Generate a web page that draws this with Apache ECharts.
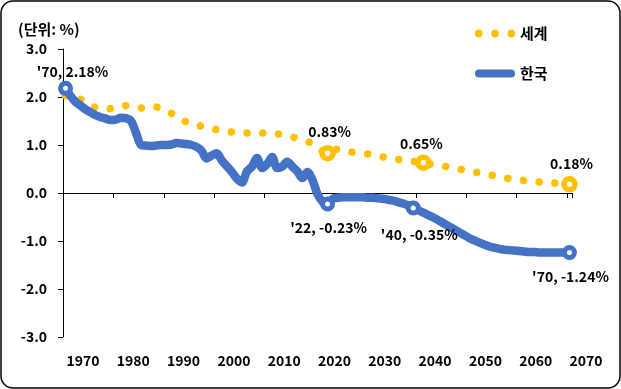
<!DOCTYPE html>
<html><head><meta charset="utf-8">
<script src="https://cdn.jsdelivr.net/npm/echarts@6/dist/echarts.min.js"></script>
<style>html,body{margin:0;padding:0;background:#fff}#c{width:621px;height:389px}</style>
</head><body><div id="c"></div>
<script>
const years = [
 '1970','1971','1972','1973','1974','1975','1976','1977','1978','1979',
 '1980','1981','1982','1983','1984','1985','1986','1987','1988','1989',
 '1990','1991','1992','1993','1994','1995','1996','1997','1998','1999',
 '2000','2001','2002','2003','2004','2005','2006','2007','2008','2009',
 '2010','2011','2012','2013','2014','2015','2016','2017','2018','2019',
 '2020','2021','2022','2023','2024','2025','2026','2027','2028','2029',
 '2030','2031','2032','2033','2034','2035','2036','2037','2038','2039',
 '2040','2041','2042','2043','2044','2045','2046','2047','2048','2049',
 '2050','2051','2052','2053','2054','2055','2056','2057','2058','2059',
 '2060','2061','2062','2063','2064','2065','2066','2067','2068','2069','2070'];

const korea = [
 2.18,2.02,1.90,1.82,1.74,1.68,1.62,1.58,1.55,1.52,
 1.53,1.57,1.56,1.50,1.25,1.00,0.99,0.98,0.99,1.00,
 1.00,1.01,1.04,1.03,1.02,1.00,0.96,0.88,0.72,0.78,
 0.83,0.68,0.56,0.44,0.30,0.22,0.45,0.55,0.73,0.52,
 0.60,0.75,0.52,0.55,0.65,0.55,0.45,0.31,0.44,0.27,
 -0.02,-0.18,-0.23,-0.12,-0.10,-0.09,-0.09,-0.09,-0.09,-0.09,
 -0.10,-0.10,-0.11,-0.12,-0.14,-0.16,-0.19,-0.22,-0.26,-0.31,
 -0.36,-0.41,-0.46,-0.51,-0.57,-0.63,-0.69,-0.75,-0.81,-0.87,
 -0.93,-0.98,-1.03,-1.07,-1.11,-1.14,-1.16,-1.18,-1.19,-1.20,
 -1.21,-1.22,-1.23,-1.23,-1.24,-1.24,-1.24,-1.24,-1.24,-1.24,-1.24];

const world = [
 2.03,2.00,1.97,1.95,1.88,1.82,1.78,1.76,1.75,1.76,
 1.79,1.81,1.82,1.80,1.78,1.77,1.78,1.79,1.79,1.76,
 1.70,1.66,1.60,1.54,1.48,1.45,1.42,1.39,1.36,1.34,
 1.32,1.30,1.28,1.27,1.26,1.25,1.25,1.25,1.25,1.25,
 1.24,1.24,1.23,1.22,1.20,1.17,1.14,1.11,1.07,1.03,
 0.95,0.87,0.83,0.90,0.91,0.89,0.87,0.85,0.84,0.82,
 0.81,0.79,0.77,0.75,0.73,0.71,0.70,0.69,0.67,0.66,
 0.64,0.63,0.61,0.59,0.57,0.56,0.54,0.52,0.50,0.48,
 0.46,0.44,0.42,0.40,0.38,0.36,0.34,0.32,0.30,0.28,
 0.27,0.26,0.25,0.24,0.23,0.23,0.22,0.21,0.20,0.19,0.18];

const koreaMarkYears = ['1970','2022','2039','2070'];
const koreaMarkLabels = ["'70, 2.18%", "'22, -0.23%", "'40, -0.35%", "'70, -1.24%"];
const worldMarkYears = ['2022','2041','2070'];
const worldMarkLabels = ['0.83%','0.65%','0.18%'];
const worldStartYear = '1970';
const worldStartLabel = '2.04%';
const xTickLabels = [1970,1980,1990,2000,2010,2020,2030,2040,2050,2060,2070];
const seriesNames = ['세계','한국'];
const unitText = '(단위: %)';

const BLUE = '#4472C4', GOLD = '#FFC000';
const FONT = '"Noto Sans CJK KR", "Noto Sans", sans-serif';
const lblStyle = {fontFamily: FONT, fontWeight: 'bold', fontSize: 14, color: '#000'};

const koreaOffsets = [[7,-17],[1,24],[6,27],[1,24]];
const worldOffsets = [[2,-21],[-2,-19],[2,-21]];

const DOTS_ICON = 'path://M0,4a3.75,3.75 0 1,0 7.5,0a3.75,3.75 0 1,0 -7.5,0Z M16.25,4a3.75,3.75 0 1,0 7.5,0a3.75,3.75 0 1,0 -7.5,0Z M32.5,4a3.75,3.75 0 1,0 7.5,0a3.75,3.75 0 1,0 -7.5,0Z';
const BAR_ICON = 'path://M4,0L36,0A4,4 0 0,1 36,8L4,8A4,4 0 0,1 4,0Z';

function val(arr, y){ return arr[years.indexOf(y)]; }

const koreaMarks = koreaMarkYears.map((y,i)=>({
  value:[y, val(korea,y)],
  label:{show:true, formatter: koreaMarkLabels[i], position:'inside', offset: koreaOffsets[i], ...lblStyle}
}));
const worldMarks = worldMarkYears.map((y,i)=>({
  value:[y, val(world,y)],
  label:{show:true, formatter: worldMarkLabels[i], position:'inside', offset: worldOffsets[i], ...lblStyle}
}));
const worldStart = [{
  value:[worldStartYear, val(world, worldStartYear)],
  symbolSize: 0,
  label:{show:true, formatter: worldStartLabel, position:'inside', offset:[24,36], ...lblStyle}
}];

const chart = echarts.init(document.getElementById('c'), null, {renderer:'canvas'});
chart.setOption({
  animation:false,
  backgroundColor:'#fff',
  graphic:[{type:'rect', shape:{x:1, y:1, width:619, height:387, r:12},
    style:{fill:'none', stroke:'#000', lineWidth:1.5}, z:-1}],
  title:{text: unitText, left: 13, top: 17, textStyle:{fontFamily:FONT, fontWeight:'bold', fontSize:15, color:'#000'}},
  legend:{
    orient:'vertical', left: 470, top: 21, itemWidth: 40, itemHeight: 8, itemGap: 25,
    symbolKeepAspect: false,
    data: [{name: seriesNames[0], icon: DOTS_ICON}, {name: seriesNames[1], icon: BAR_ICON}],
    textStyle:{fontFamily:FONT, fontWeight:'bold', fontSize:15, color:'#000'}
  },
  grid:[
    {left:63, right:49, top:49, bottom:52},
    {left:83, right:35, top:49, bottom:52}
  ],
  xAxis:[
    {type:'category', gridIndex:0, data: years, boundaryGap:true,
     axisLine:{onZero:true, lineStyle:{color:'#000', width:1}},
     axisTick:{show:true, interval:9, length:5, lineStyle:{color:'#000'}},
     axisLabel:{show:false}, splitLine:{show:false}},
    {type:'value', gridIndex:1, min: xTickLabels[0], max: xTickLabels[xTickLabels.length-1], interval:10,
     axisLine:{show:false}, axisTick:{show:false}, splitLine:{show:false},
     axisLabel:{margin:17, formatter: v => String(v), ...lblStyle}}
  ],
  yAxis:[
    {type:'value', gridIndex:0, min:-3, max:3, interval:1,
     axisLine:{show:true, lineStyle:{color:'#000', width:1}},
     axisTick:{show:true, length:5, lineStyle:{color:'#000'}},
     splitLine:{show:false},
     axisLabel:{margin:16, formatter: v => v.toFixed(1), ...lblStyle}},
    {type:'value', gridIndex:1, min:-3, max:3, show:false}
  ],
  series:[
    {name: seriesNames[0], type:'line', data: world, symbol:'none', smooth:0.3,
     lineStyle:{color:GOLD, width:7.5, type:[0.01,15.8], cap:'round'}, itemStyle:{color:GOLD}, z:2},
    {name: seriesNames[1], type:'line', data: korea, symbol:'none', smooth:0.3,
     lineStyle:{color:BLUE, width:8.5, cap:'round', join:'round'}, itemStyle:{color:BLUE}, z:3},
    {name:'wm', type:'scatter', data: worldMarks, symbol:'circle', symbolSize:11,
     itemStyle:{color:'#fff', borderColor:GOLD, borderWidth:5.5, opacity:1}, z:4},
    {name:'ws', type:'scatter', data: worldStart, symbol:'none', z:4},
    {name:'km', type:'scatter', data: koreaMarks, symbol:'circle', symbolSize:10,
     itemStyle:{color:'#fff', borderColor:BLUE, borderWidth:5, opacity:1}, z:5}
  ]
});
</script></body></html>
